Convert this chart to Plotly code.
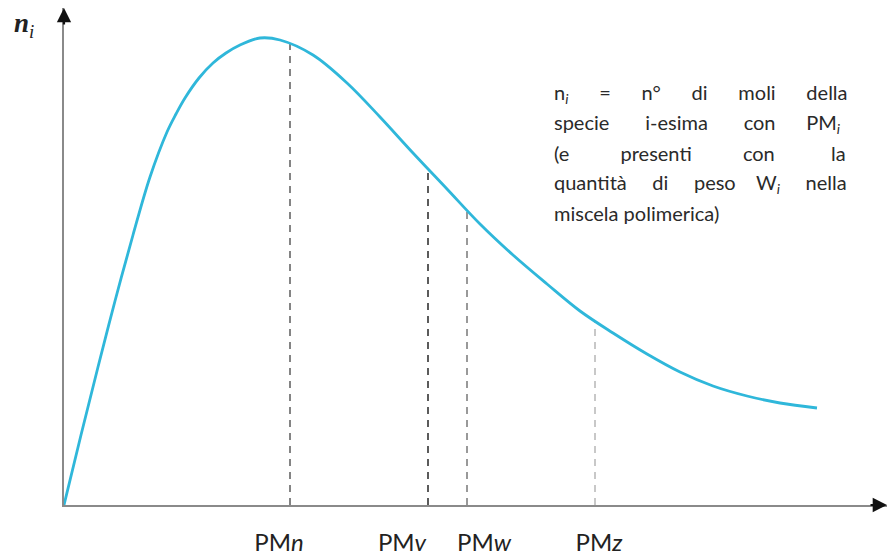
import plotly.graph_objects as go

# --- data (arbitrary units) ---
curve_x = [0, 17, 34, 51, 69, 86, 103, 112, 121, 135, 149, 162, 176, 196, 216, 249, 283, 316,
           349, 383, 416, 449, 483, 516, 549, 583, 616, 649, 683, 716, 753]
curve_y = [0, 70, 138, 204, 270, 328, 373, 391, 407, 427, 442, 452, 460, 467, 465, 450, 422, 388,
           352, 316, 281, 250, 221, 194, 172, 151, 133, 119, 109, 102, 97]

pm_names = ["n", "v", "w", "z"]
pm_x = [226, 364, 403, 531]
pm_top = [462, 335, 293, 183]
pm_colors = ["#666666", "#333333", "#808080", "#bbbbbb"]
label_x = [215, 338, 420, 535]
label_text = ["PM<i>" + n + "</i>" for n in pm_names]


def sp(n):
    return "&nbsp;" * n


note_lines = [
    "n<sub><i>i</i></sub>" + sp(6) + "=" + sp(6) + "n°" + sp(6) + "di" + sp(6) + "moli" + sp(6) + "della",
    "specie" + sp(7) + "i-esima" + sp(7) + "con" + sp(6) + "PM<sub><i>i</i></sub>",
    "(e" + sp(10) + "presenti" + sp(10) + "con" + sp(11) + "la",
    "quantità" + sp(5) + "di" + sp(5) + "peso" + sp(4) + "W<sub><i>i</i></sub>" + sp(5) + "nella",
    "miscela polimerica)",
]

XMAX, YMAX = 823, 497
FONT = "Lato, 'Open Sans', sans-serif"

fig = go.Figure()

for x, top, c in zip(pm_x, pm_top, pm_colors):
    fig.add_trace(go.Scatter(x=[x, x], y=[0, top], mode="lines",
                             line=dict(color=c, width=1.6, dash="7px,6px"),
                             hoverinfo="skip", showlegend=False))

fig.add_trace(go.Scatter(x=curve_x, y=curve_y, mode="lines",
                         line=dict(color="#2fb7da", width=2.8, shape="spline", smoothing=1.0),
                         showlegend=False))

annotations = []
# arrowheads on axes
annotations.append(dict(x=XMAX, y=0, ax=XMAX - 18, ay=0, xref="x", yref="y",
                        axref="x", ayref="y", showarrow=True, arrowhead=2,
                        arrowsize=1.3, arrowwidth=2.2, arrowcolor="#111", text=""))
annotations.append(dict(x=0, y=YMAX, ax=0, ay=YMAX - 18, xref="x", yref="y",
                        axref="x", ayref="y", showarrow=True, arrowhead=2,
                        arrowsize=1.3, arrowwidth=2.2, arrowcolor="#111", text=""))
# y label
annotations.append(dict(x=-0.063, y=1.005, xref="paper", yref="paper", showarrow=False,
                        text="<b><i>n</i></b><sub><i>i</i></sub>",
                        font=dict(family="'Liberation Serif', serif", size=27, color="#222")))
# note text
for i, line in enumerate(note_lines):
    annotations.append(dict(x=488, y=412 - 30 * i, xref="x", yref="y", xanchor="left",
                            yanchor="middle", showarrow=False, text=line,
                            font=dict(family=FONT, size=20, color="#2a2a2a")))

fig.update_layout(
    width=891, height=556,
    margin=dict(l=64, r=4, t=8, b=51, autoexpand=False),
    paper_bgcolor="white", plot_bgcolor="white",
    annotations=annotations,
    xaxis=dict(range=[0, XMAX], showgrid=False, zeroline=False, showline=True,
               linecolor="#8a8a8a", linewidth=1.5, tickvals=label_x, ticktext=label_text,
               ticks="", ticklabelstandoff=15, automargin=False,
               tickfont=dict(family=FONT, size=24, color="#222")),
    yaxis=dict(range=[0, YMAX], showgrid=False, zeroline=False, showline=True,
               linecolor="#8a8a8a", linewidth=1.5, showticklabels=False, ticks="",
               automargin=False),
)

fig.write_html("out.html", config={"displayModeBar": False},
               post_script="document.body.style.margin='0px';")
